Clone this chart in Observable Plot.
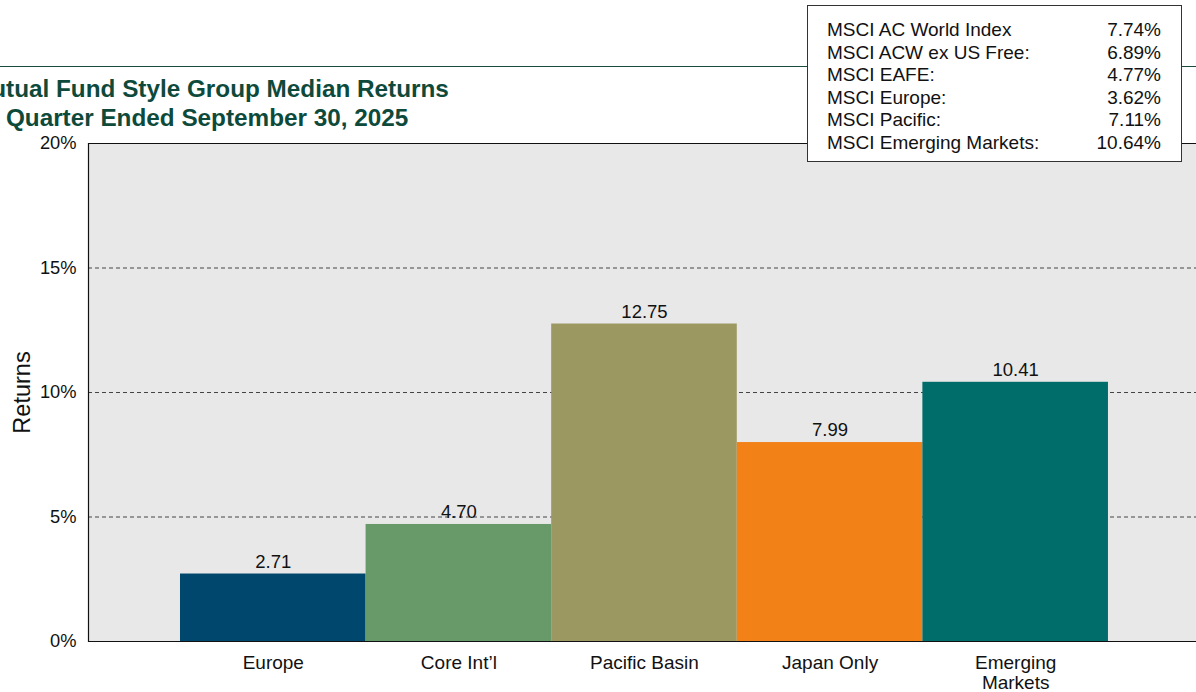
<!DOCTYPE html>
<html><head><meta charset="utf-8">
<script src="https://cdn.jsdelivr.net/npm/d3@7"></script>
<script src="https://cdn.jsdelivr.net/npm/@observablehq/plot@0.6"></script>
<style>
body{margin:0;overflow:hidden;background:#fff;font-family:Arial,"Liberation Sans",sans-serif;}
#wrap{position:relative;width:1196px;height:692px;overflow:hidden;}
#chart{position:absolute;left:0;top:0;}
#rule{position:absolute;left:0;top:66px;width:1196px;height:0;border-top:1.5px solid #1b4a3e;}
.title{position:absolute;font-weight:bold;font-size:24.3px;color:#0e4a3b;white-space:nowrap;line-height:29px;}
#legend{position:absolute;left:807px;top:5px;width:375px;height:157px;border:1px solid #333;background:#fff;box-sizing:border-box;padding-top:13px;}
.row{position:relative;height:22.6px;line-height:22.6px;font-size:19px;color:#111;}
.row .n{position:absolute;left:19px;}
.row .v{position:absolute;right:20px;}
</style></head>
<body>
<div id="wrap">
  <div id="chart"></div>
  <div id="rule"></div>
  <div class="title" style="top:74px;left:-29px">Mutual Fund Style Group Median Returns</div>
  <div class="title" style="top:103px;left:-40px">For Quarter Ended September 30, 2025</div>
  <div id="legend"></div>
</div>
<script>
const categories = ["Europe", "Core Int’l", "Pacific Basin", "Japan Only", "Emerging Markets"];
const values = [2.71, 4.70, 12.75, 7.99, 10.41];
const colors = ["#00476e", "#679a68", "#9b9862", "#f28118", "#006d6b"];
const yTicks = [0, 5, 10, 15, 20];
const gridTicks = [5, 10, 15];
const indexNames = ["MSCI AC World Index", "MSCI ACW ex US Free:", "MSCI EAFE:", "MSCI Europe:", "MSCI Pacific:", "MSCI Emerging Markets:"];
const indexValues = ["7.74%", "6.89%", "4.77%", "3.62%", "7.11%", "10.64%"];

const data = categories.map((c, i) => ({cat: c, val: values[i]}));
const labelMap = {"Emerging Markets": "Emerging\nMarkets"};

const plot = Plot.plot({
  width: 1196,
  height: 692,
  marginTop: 143,
  marginLeft: 88,
  marginRight: 0,
  marginBottom: 51,
  style: {fontFamily: "Arial, 'Liberation Sans', sans-serif", color: "#111", background: "transparent"},
  x: {domain: categories, paddingInner: 0, paddingOuter: 0.485, align: 0.511, round: false, axis: null},
  y: {domain: [0, 20], axis: null},
  color: {domain: categories, range: colors},
  marks: [
    Plot.frame({fill: "#e8e8e8", stroke: null}),
    Plot.gridY(gridTicks, {stroke: "#444", strokeOpacity: 1, strokeWidth: 1, strokeDasharray: "4,3"}),
    Plot.barY(data, {x: "cat", y: "val", fill: "cat"}),
    Plot.ruleY([0, 20], {stroke: "#111", strokeWidth: 1.2}),
    Plot.frame({anchor: "left", stroke: "#111", strokeWidth: 1.2}),
    Plot.axisY(yTicks, {tickSize: 0, tickPadding: 12, tickFormat: d => d + "%", fontSize: 18.3, label: null}),
    Plot.axisX({tickSize: 0, tickPadding: 13, fontSize: 19, label: null, lineAnchor: "top", tickFormat: d => labelMap[d] || d, lineHeight: 1.05}),
    Plot.text(data, {x: "cat", y: "val", text: d => d.val.toFixed(2), dy: -12, fontSize: 18.5, fill: "#111"}),
    Plot.text(["Returns"], {frameAnchor: "left", textAnchor: "middle", dx: -66, rotate: -90, fontSize: 23.5, fill: "#111"})
  ]
});
document.getElementById("chart").appendChild(plot);

const legend = document.getElementById("legend");
indexNames.forEach((n, i) => {
  const r = document.createElement("div");
  r.className = "row";
  r.innerHTML = `<span class="n">${n}</span><span class="v">${indexValues[i]}</span>`;
  legend.appendChild(r);
});
</script>
</body></html>
